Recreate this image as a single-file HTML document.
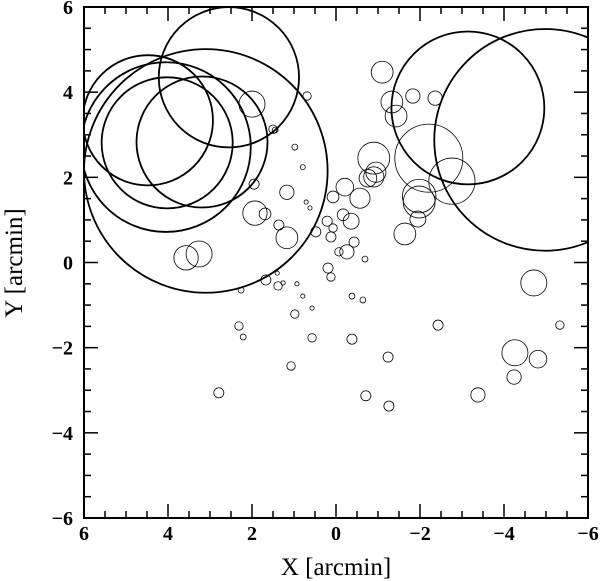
<!DOCTYPE html>
<html><head><meta charset="utf-8"><style>
html,body{margin:0;padding:0;background:#fff;}
svg{display:block;}
text{font-family:"Liberation Serif",serif;fill:#000;}
</style></head><body>
<svg id="chart" width="603" height="581">
<g id="thin"></g>
<g id="thick"></g>
<rect x="84" y="7" width="504" height="511" fill="none" stroke="#000" stroke-width="2"/>
<g id="ticks"></g>
<g id="labels"></g>
<text x="336" y="575" text-anchor="middle" font-size="25">X [arcmin]</text>
<text x="0" y="0" transform="translate(22,263) rotate(-90)" text-anchor="middle" font-size="25">Y [arcmin]</text>
</svg>
<script>
// data
const thickX = [2.55, 3.10, 4.48, 4.02, 4.05, 3.19, -3.14, -4.98];
const thickY = [4.35, 2.15, 3.34, 2.81, 2.71, 2.83, 3.63, 2.88];
const thickR = [1.67, 2.90, 1.55, 1.56, 2.02, 1.56, 1.82, 2.64];
const thinX = [-1.10,-1.33,-1.43,-1.83,-2.36,-2.21,-2.76,-1.98,-1.98,-1.95,-1.64,-0.90,-0.95,-0.90,-0.76,-0.21,-0.57,0.07,-0.17,-0.36,0.21,0.07,0.12,-0.43,-0.26,-0.07,-0.69,0.19,0.12,0.98,0.79,0.71,0.62,1.17,1.17,0.69,-4.71,1.26,0.93,0.79,-0.38,-0.64,0.48,2.00,1.50,1.45,1.95,1.93,1.69,1.36,3.57,3.26,2.26,1.67,1.38,1.40,0.57,0.98,2.31,2.21,0.57,-0.38,-2.43,-5.33,-4.26,-4.81,-4.24,-3.38,-1.24,1.07,2.79,-0.71,-1.26];
const thinY = [4.47,3.77,3.44,3.91,3.86,2.45,1.91,1.56,1.42,1.02,0.67,2.45,2.12,2.01,1.98,1.77,1.51,1.54,1.12,0.97,0.97,0.81,0.60,0.48,0.25,0.25,0.08,-0.13,-0.34,2.71,2.24,1.42,1.28,1.65,0.58,3.91,-0.48,-0.48,-0.50,-0.79,-0.79,-0.88,0.72,3.72,3.13,3.11,1.84,1.16,1.14,0.88,0.11,0.20,-0.65,-0.41,-0.55,-0.25,-1.07,-1.21,-1.49,-1.75,-1.77,-1.80,-1.47,-1.47,-2.12,-2.27,-2.69,-3.11,-2.22,-2.43,-3.06,-3.13,-3.37];
const thinR = [.26,.26,.26,.17,.17,.81,.55,.40,.38,.19,.26,.38,.24,.24,.21,.21,.24,.14,.14,.19,.12,.10,.12,.12,.17,.10,.07,.12,.10,.07,.06,.05,.05,.17,.26,.10,.31,.05,.05,.05,.07,.07,.12,.31,.10,.07,.12,.29,.14,.12,.29,.31,.07,.12,.10,.05,.05,.10,.10,.07,.10,.12,.12,.10,.31,.21,.17,.17,.12,.10,.12,.12,.12];
const xTicks = [6,4,2,0,-2,-4,-6];
const yTicks = [6,4,2,0,-2,-4,-6];
const xTickText = ["6","4","2","0","\u22122","\u22124","\u22126"];
const yTickText = ["6","4","2","0","\u22122","\u22124","\u22126"];

const L=84,R=588,T=7,B=518;
function sx(v){return L+(6-v)*(R-L)/12;}
function sy(v){return T+(6-v)*(B-T)/12;}
function sr(v){return v*(R-L)/12;}
const NS="http://www.w3.org/2000/svg";
const clipDef=document.createElementNS(NS,"defs");
clipDef.innerHTML='<clipPath id="pc"><rect x="84" y="7" width="504" height="511"/></clipPath>';
document.getElementById('chart').prepend(clipDef);
const thin=document.getElementById('thin'), thick=document.getElementById('thick');
thin.setAttribute('clip-path','url(#pc)');thick.setAttribute('clip-path','url(#pc)');
for(let i=0;i<thinX.length;i++){
  const c=document.createElementNS(NS,"circle");
  c.setAttribute('cx',sx(thinX[i]));c.setAttribute('cy',sy(thinY[i]));c.setAttribute('r',Math.max(1.8,sr(thinR[i])));
  c.setAttribute('fill','none');c.setAttribute('stroke','#000');c.setAttribute('stroke-width','0.8');
  
  
  thin.appendChild(c);
}
for(let i=0;i<thickX.length;i++){
  const c=document.createElementNS(NS,"circle");
  c.setAttribute('cx',sx(thickX[i]));c.setAttribute('cy',sy(thickY[i]));c.setAttribute('r',sr(thickR[i]));
  c.setAttribute('fill','none');c.setAttribute('stroke','#000');c.setAttribute('stroke-width','1.8');
  
  
  thick.appendChild(c);
}
const tk=document.getElementById('ticks');
function line(x1,y1,x2,y2){const l=document.createElementNS(NS,"line");l.setAttribute('x1',x1);l.setAttribute('y1',y1);l.setAttribute('x2',x2);l.setAttribute('y2',y2);l.setAttribute('stroke','#000');l.setAttribute('stroke-width','1.5');
  
  
  tk.appendChild(l);}
for(let k=0;k<=24;k++){
  const v=6-k*0.5, major=(k%4===0), len=major?14:7;
  const x=sx(v), y=sy(v);
  line(x,B,x,B-len); line(x,T,x,T+len);
  line(L,y,L+len,y); line(R,y,R-len,y);
}
const lb=document.getElementById('labels');
for(let i=0;i<xTicks.length;i++){
  const t=document.createElementNS(NS,"text");
  t.setAttribute('x',sx(xTicks[i]));t.setAttribute('y',540);t.setAttribute('text-anchor','middle');t.setAttribute('font-size','20');t.setAttribute('font-weight','bold');
  t.textContent=xTickText[i];
  
  
  lb.appendChild(t);
}
for(let i=0;i<yTicks.length;i++){
  const t=document.createElementNS(NS,"text");
  t.setAttribute('x',73);t.setAttribute('y',sy(yTicks[i])+7);t.setAttribute('text-anchor','end');t.setAttribute('font-size','20');t.setAttribute('font-weight','bold');
  t.textContent=yTickText[i];
  
  
  lb.appendChild(t);
}
</script>
</body></html>
